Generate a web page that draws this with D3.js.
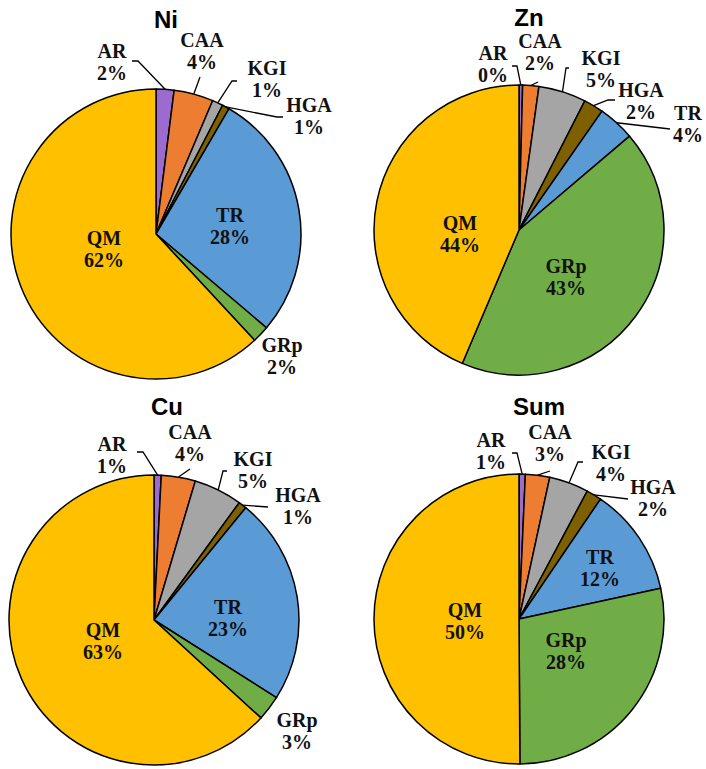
<!DOCTYPE html>
<html>
<head>
<meta charset="utf-8">
<script src="https://cdn.jsdelivr.net/npm/d3@7"></script>
<style>
  body { margin: 0; background: #fff; }
</style>
</head>
<body>
<script>
// Data (percent of each source)
const categories = ["AR", "CAA", "KGI", "HGA", "TR", "GRp", "QM"];
const sliceColors = ["#9b6bcf", "#ed7d31", "#a5a5a5", "#7f6000", "#5b9bd5", "#70ad47", "#ffc000"];
const titles = ["Ni", "Zn", "Cu", "Sum"];
const niValues = [2.0, 4.4, 1.2, 0.8, 27.8, 1.9, 61.9];
const znValues = [0.4, 1.8, 5.3, 2.2, 4.1, 42.6, 43.6];
const cuValues = [0.8, 3.8, 5.4, 0.9, 23.1, 2.8, 63.2];
const sumValues = [0.7, 2.7, 4.4, 1.7, 12.1, 28.3, 50.1];
const seriesValues = [niValues, znValues, cuValues, sumValues];

const width = 706;
const height = 769;
const radius = 145;

// Panel layout: pie centre and title position
const panels = [
  { cx: 156, cy: 234, tx: 166, ty: 28 },
  { cx: 519, cy: 230, tx: 529, ty: 26 },
  { cx: 154, cy: 620, tx: 167, ty: 415 },
  { cx: 519, cy: 619, tx: 539, ty: 415 }
];

// Label placement relative to pie centre: text centre x, first baseline y,
// and the leader points near the label (leader ends on the slice edge)
const labelLayout = [
  { // Ni
    AR: { x: -44, y: -176, lead: [[-24, -173], [-18, -173]] },
    CAA: { x: 46, y: -187, lead: [[44, -157]] },
    KGI: { x: 111, y: -159, lead: [[81, -153], [76, -153]] },
    HGA: { x: 153, y: -122, lead: [[127, -117], [121, -117]] },
    TR: { x: 74, y: -12 },
    GRp: { x: 126, y: 118 },
    QM: { x: -52, y: 11 }
  },
  { // Zn
    AR: { x: -26, y: -170, lead: [[-7, -164], [-2, -164]] },
    CAA: { x: 21, y: -182, lead: [[19, -148]] },
    KGI: { x: 82, y: -165, lead: [[50, -162], [47, -162]] },
    HGA: { x: 122, y: -133, lead: [[96, -130], [89, -130]] },
    TR: { x: 169, y: -110, lead: [[151, -101]] },
    GRp: { x: 47, y: 43 },
    QM: { x: -59, y: 0 }
  },
  { // Cu
    AR: { x: -42, y: -169, lead: [[-17, -168], [-11, -168]] },
    CAA: { x: 36, y: -181, lead: [[36, -151]] },
    KGI: { x: 99, y: -154, lead: [[73, -149], [69, -149]] },
    HGA: { x: 144, y: -118, lead: [[114, -113]] },
    TR: { x: 74, y: -6 },
    GRp: { x: 143, y: 107 },
    QM: { x: -51, y: 17 }
  },
  { // Sum
    AR: { x: -28, y: -172, lead: [[-7, -166], [-2, -166]] },
    CAA: { x: 31, y: -180, lead: [[31, -148]] },
    KGI: { x: 92, y: -160, lead: [[64, -157], [59, -157]] },
    HGA: { x: 134, y: -125, lead: [[109, -120]] },
    TR: { x: 81, y: -55 },
    GRp: { x: 47, y: 28 },
    QM: { x: -54, y: -2 }
  }
];

const svg = d3.select("body")
  .append("svg")
  .attr("width", width)
  .attr("height", height);

const color = d3.scaleOrdinal().domain(categories).range(sliceColors);

const pie = d3.pie()
  .sort(null)
  .value(d => d.value);

const arc = d3.arc().innerRadius(0).outerRadius(radius);
const edgeArc = d3.arc().innerRadius(radius).outerRadius(radius);
const line = d3.line();

seriesValues.forEach((values, i) => {
  const p = panels[i];
  const layout = labelLayout[i];
  const data = categories.map((c, j) => ({ name: c, value: values[j] }));
  const arcs = pie(data);

  svg.append("text")
    .attr("x", p.tx)
    .attr("y", p.ty)
    .attr("text-anchor", "middle")
    .style("font-family", "'Liberation Sans', Arial, sans-serif")
    .style("font-weight", "bold")
    .style("font-size", "24px")
    .attr("fill", "#000")
    .text(titles[i]);

  const g = svg.append("g")
    .attr("transform", `translate(${p.cx},${p.cy})`);

  g.selectAll("path.slice")
    .data(arcs)
    .enter()
    .append("path")
    .attr("class", "slice")
    .attr("d", arc)
    .attr("fill", d => color(d.data.name))
    .attr("stroke", "#000")
    .attr("stroke-width", 1.5)
    .attr("stroke-linejoin", "round");

  // leader lines
  g.selectAll("path.leader")
    .data(arcs.filter(d => layout[d.data.name].lead))
    .enter()
    .append("path")
    .attr("class", "leader")
    .attr("d", d => line(layout[d.data.name].lead.concat([edgeArc.centroid(d)])))
    .attr("fill", "none")
    .attr("stroke", "#000")
    .attr("stroke-width", 1.3);

  const labels = g.selectAll("text.lbl")
    .data(arcs)
    .enter()
    .append("text")
    .attr("class", "lbl")
    .attr("text-anchor", "middle")
    .style("font-family", "'Liberation Serif', 'Times New Roman', serif")
    .style("font-weight", "bold")
    .style("font-size", "20px")
    .attr("fill", "#111");

  labels.append("tspan")
    .attr("x", d => layout[d.data.name].x)
    .attr("y", d => layout[d.data.name].y)
    .text(d => d.data.name);

  labels.append("tspan")
    .attr("x", d => layout[d.data.name].x)
    .attr("y", d => layout[d.data.name].y + 22)
    .text(d => Math.round(d.data.value) + "%");
});
</script>
</body>
</html>
